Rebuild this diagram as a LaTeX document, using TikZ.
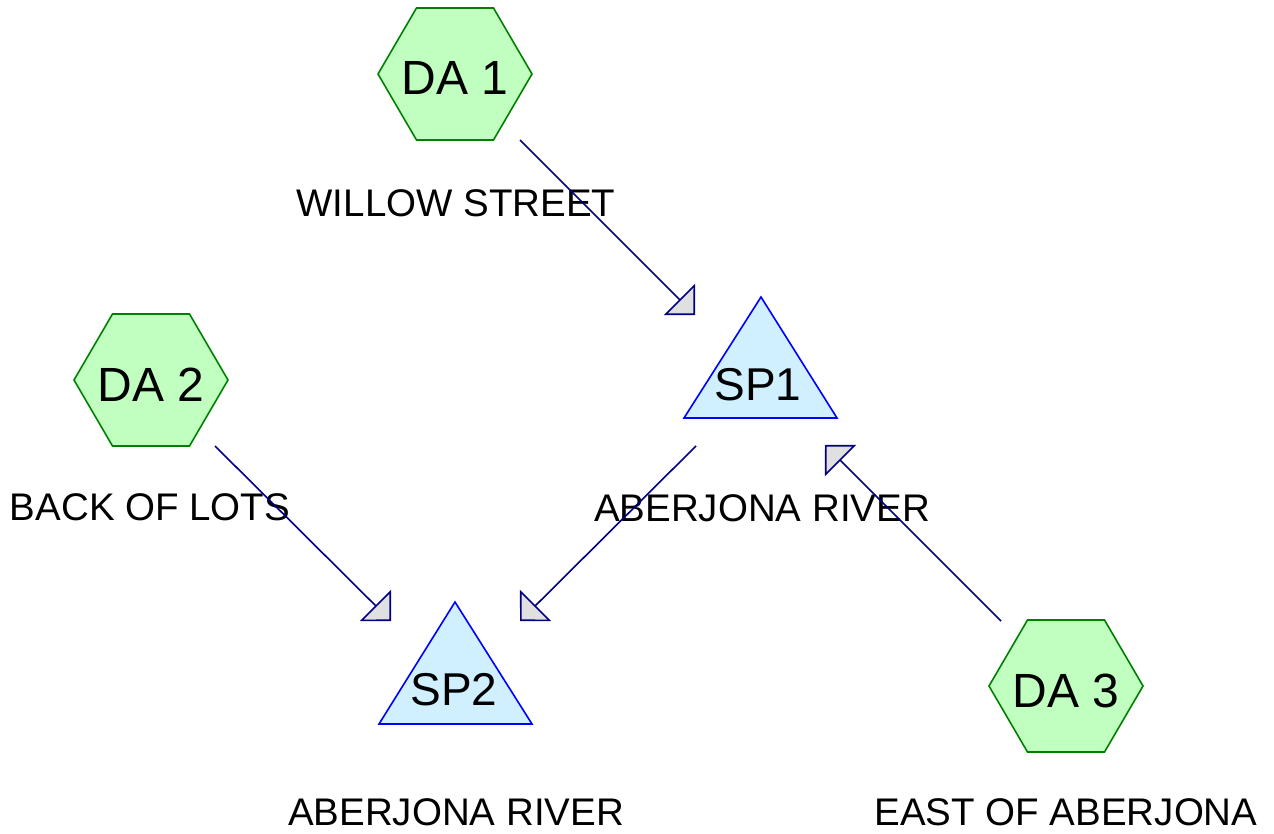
\documentclass[tikz,border=0pt]{standalone}
\usepackage{fontspec}
\setmainfont{Liberation Sans}
\usetikzlibrary{arrows.meta,calc}
\definecolor{hexfill}{HTML}{C0FFC0}
\definecolor{hexline}{HTML}{008000}
\definecolor{trifill}{HTML}{D0F0FF}
\definecolor{triline}{HTML}{0000FF}
\definecolor{flow}{HTML}{000080}
\definecolor{tipfill}{HTML}{E0E0E0}
\begin{document}
\begin{tikzpicture}[x=1pt,y=-1pt,
  hexa/.style={draw=hexline,fill=hexfill,line width=1.6pt,line join=miter},
  tria/.style={draw=triline,fill=trifill,line width=1.6pt,line join=miter},
  bigtext/.style={font=\fontsize{48}{48}\selectfont,anchor=base,inner sep=0pt},
  sptext/.style={font=\fontsize{46}{46}\selectfont,anchor=base,inner sep=0pt},
  labtext/.style={font=\fontsize{38.5}{40}\selectfont,anchor=base,inner sep=0pt},
  flowline/.style={draw=flow,line width=1.6pt,-{Triangle[length=22pt,width=44pt,fill=tipfill]}}]
\useasboundingbox (0,0) rectangle (1274,834);
% hexagon centres
\coordinate (h1) at (455,74);
\coordinate (h2) at (151,380);
\coordinate (h3) at (1066,686);
\foreach \c in {h1,h2,h3}{
  \draw[hexa] ($(\c)+(-77,0)$) -- ($(\c)+(-38.5,-66)$) -- ($(\c)+(38.5,-66)$) -- ($(\c)+(77,0)$) -- ($(\c)+(38.5,66)$) -- ($(\c)+(-38.5,66)$) -- cycle;
}
% triangles
\draw[tria] (761,297) -- (837,418) -- (684,418) -- cycle;
\draw[tria] (455,602) -- (532,724) -- (379,724) -- cycle;
% shape texts
\node[bigtext] (da1) at (455,95) {DA 1};
\node[bigtext] (da2) at (151,401) {DA 2};
\node[bigtext] (da3) at (1066,707) {DA 3};
\node[sptext] (sp1) at (758,400) {SP1};
\node[sptext] (sp2) at (454,705) {SP2};
% labels
\node[labtext] (l1) at (456,217) {WILLOW STREET};
\node[labtext] (l2) at (150,520) {BACK OF LOTS};
\node[labtext] (l3) at (762,521) {ABERJONA RIVER};
\node[labtext] (l4) at (456,825) {ABERJONA RIVER};
\node[labtext] (l5) at (1066,825) {EAST OF ABERJONA};
% connector ends
\coordinate (da1out) at (520,140);
\coordinate (sp1inA) at (695,315);
\coordinate (da2out) at (215,446);
\coordinate (sp2inA) at (391,621);
\coordinate (sp1out) at (696,446);
\coordinate (sp2inB) at (520,621);
\coordinate (da3out) at (1001,621);
\coordinate (sp1inB) at (825,445);
% connectors
\draw[flowline] (da1out) -- (sp1inA);
\draw[flowline] (da2out) -- (sp2inA);
\draw[flowline] (sp1out) -- (sp2inB);
\draw[flowline] (da3out) -- (sp1inB);
\end{tikzpicture}
\end{document}
